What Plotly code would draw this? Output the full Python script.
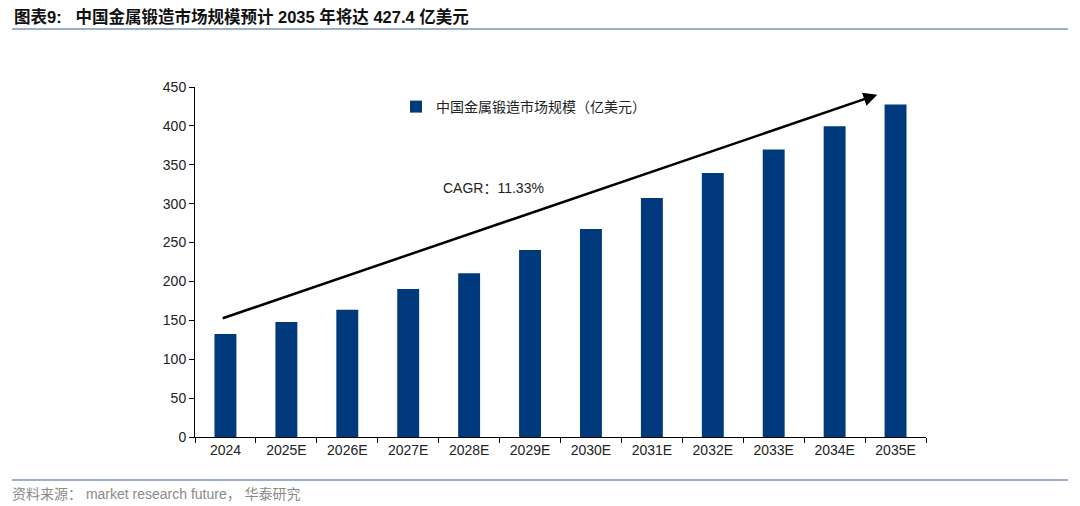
import plotly.graph_objects as go

categories = ["2024", "2025E", "2026E", "2027E", "2028E", "2029E", "2030E",
              "2031E", "2032E", "2033E", "2034E", "2035E"]
values = [132.4, 148.0, 163.5, 190.3, 210.5, 240.4, 267.5, 307.3, 339.4, 369.5, 399.5, 427.4]
series_name = "中国金属锻造市场规模（亿美元）"
y_ticks = [0, 50, 100, 150, 200, 250, 300, 350, 400, 450]

BAR = "#003A7D"
CJK = "Noto Sans CJK SC"
LAT = "Liberation Sans, Arial"

W, H = 1080, 506
OFF = 8  # page offset of the figure in the screenshot
L, R, T, B = 187, 162, 79, 77
PW, PH = W - L - R, H - T - B


def px(x):
    return (x - OFF - L) / PW


def py(y):
    return 1 - (y - OFF - T) / PH


fig = go.Figure()
fig.add_trace(go.Bar(x=categories, y=values, name=series_name,
                     marker=dict(color=BAR, line=dict(width=0)),
                     showlegend=True))

fig.update_layout(
    width=W, height=H,
    margin=dict(l=L, r=R, t=T, b=B),
    paper_bgcolor="white", plot_bgcolor="white",
    bargap=0.64,
    font=dict(family=LAT, size=13, color="#000000"),
    showlegend=True,
    legend=dict(x=px(396), y=py(91), xanchor="left", yanchor="top",
                bgcolor="rgba(0,0,0,0)", font=dict(family=CJK, size=14, color="#222"),
                itemwidth=30, itemsizing="constant"),
    xaxis=dict(type="category", showline=True, linecolor="#000", linewidth=1,
               ticks="outside", tickson="boundaries", ticklen=5, tickcolor="#000",
               tickfont=dict(family=LAT, size=14, color="#222"), showgrid=False,
               range=[-0.5, 11.5]),
    yaxis=dict(range=[0, 450], tickvals=y_ticks, showline=True, linecolor="#000",
               linewidth=1, ticks="outside", ticklen=5, tickcolor="#000",
               tickfont=dict(family=LAT, size=14, color="#222"), showgrid=False,
               zeroline=False),
)

# Growth arrow
fig.add_annotation(x=10.7, y=440, ax=-0.07, ay=152, xref="x", yref="y",
                   axref="x", ayref="y", text="", showarrow=True,
                   arrowhead=2, arrowsize=1.1, arrowwidth=2.5, arrowcolor="#000")
fig.add_annotation(x=4.4, y=320, xref="x", yref="y", text="CAGR：11.33%",
                   showarrow=False, font=dict(family=LAT + ", " + CJK, size=14, color="#222"))

# Title
fig.add_annotation(x=px(12), y=py(16), xref="paper", yref="paper",
                   xanchor="left", yanchor="middle", showarrow=False,
                   text="<b>图表9:   中国金属锻造市场规模预计 2035 年将达 427.4 亿美元</b>",
                   font=dict(family=LAT + ", " + CJK, size=16.5, color="#111"))
# Footer source
fig.add_annotation(x=px(10), y=py(494), xref="paper", yref="paper",
                   xanchor="left", yanchor="middle", showarrow=False,
                   text="资料来源： market research future， 华泰研究",
                   font=dict(family=LAT + ", " + CJK, size=14, color="#8a8a8a"))

# Separator lines
fig.add_shape(type="line", xref="paper", yref="paper", x0=px(12), x1=px(1068),
              y0=py(29), y1=py(29), line=dict(color="#9BB0C8", width=2))
fig.add_shape(type="line", xref="paper", yref="paper", x0=px(12), x1=px(1068),
              y0=py(480), y1=py(480), line=dict(color="#9BB0C8", width=2))

fig.write_html("out.html")
